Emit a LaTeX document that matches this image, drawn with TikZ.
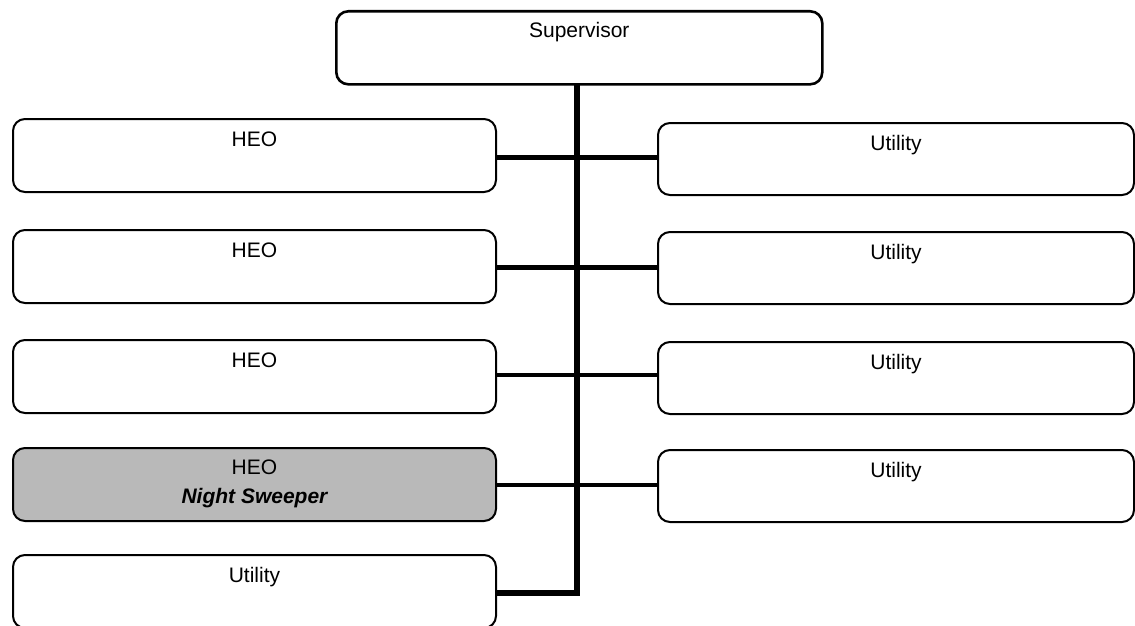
\documentclass[tikz,border=0pt]{standalone}
\usepackage{fontspec}
\setmainfont{Liberation Sans}
\usetikzlibrary{backgrounds}
\begin{document}
\begin{tikzpicture}[x=1pt,y=-1pt,
  box/.style={draw=black, line width=2pt, rounded corners=12pt, fill=white, anchor=north west, inner sep=0pt},
  lbox/.style={box, minimum width=483pt, minimum height=73pt},
  rbox/.style={box, minimum width=476pt, minimum height=72pt},
  hbox/.style={lbox, fill=gray!55},
  lbl/.style={anchor=base, inner sep=0pt, font=\fontsize{21}{25}\selectfont},
  conn/.style={line width=5pt, line cap=butt},
  trunk/.style={line width=6pt}]
\useasboundingbox (0,0) rectangle (1135,626);
% boxes
\node[box, line width=2.6pt, minimum width=486pt, minimum height=73pt] (sup) at (335,10) {};
\node[lbox] (h1) at (12,118) {};
\node[lbox] (h2) at (12,229) {};
\node[lbox] (h3) at (12,339) {};
\node[hbox] (h4) at (12,447) {};
\node[lbox] (u0) at (12,554) {};
\node[rbox] (u1) at (657,122) {};
\node[rbox] (u2) at (657,231) {};
\node[rbox] (u3) at (657,341) {};
\node[rbox] (u4) at (657,449) {};
% labels
\node[lbl] (tsup) at ([yshift=-28pt]sup.north) {Supervisor};
\node[lbl] (th1) at ([yshift=-28pt]h1.north) {HEO};
\node[lbl] (th2) at ([yshift=-28pt]h2.north) {HEO};
\node[lbl] (th3) at ([yshift=-28pt]h3.north) {HEO};
\node[lbl] (th4) at ([yshift=-27pt]h4.north) {HEO};
\node[lbl, font=\fontsize{21}{25}\selectfont\bfseries\itshape] (th4b) at ([yshift=-56pt]h4.north) {Night Sweeper};
\node[lbl] (tu0) at ([yshift=-28pt]u0.north) {Utility};
\node[lbl] (tu1) at ([yshift=-28pt]u1.north) {Utility};
\node[lbl] (tu2) at ([yshift=-28pt]u2.north) {Utility};
\node[lbl] (tu3) at ([yshift=-28pt]u3.north) {Utility};
\node[lbl] (tu4) at ([yshift=-28pt]u4.north) {Utility};
% connectors, behind the boxes
\coordinate (jb) at (577,593);
\begin{pgfonlayer}{background}
\draw[trunk] (sup.center -| jb) -- ([yshift=-3pt]jb);
\draw[conn] (h1.center |- 0,157) -- (u1.center |- 0,157);
\draw[conn] (h2.center |- 0,267) -- (u2.center |- 0,267);
\draw[conn, line width=4.5pt] (h3.center |- 0,375) -- (u3.center |- 0,375);
\draw[conn, line width=4.5pt] (h4.center |- 0,485) -- (u4.center |- 0,485);
\draw[conn, line width=6pt] (u0.center |- jb) -- ([xshift=3pt]jb);
\end{pgfonlayer}
\end{tikzpicture}
\end{document}
